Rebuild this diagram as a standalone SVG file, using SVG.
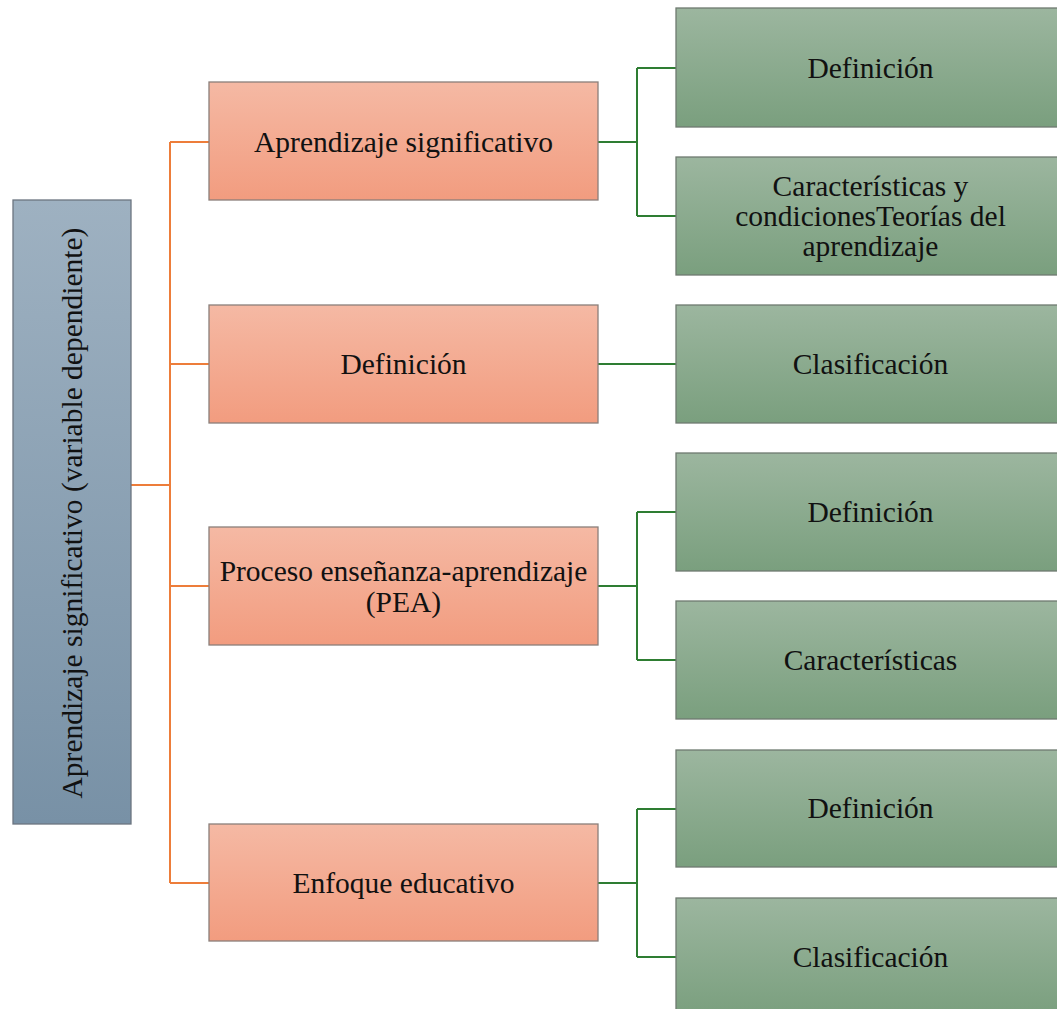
<svg xmlns="http://www.w3.org/2000/svg" width="1057" height="1009" viewBox="0 0 1057 1009">
<defs>
<linearGradient id="gO" x1="0" y1="0" x2="0" y2="1"><stop offset="0" stop-color="#F5B9A4"/><stop offset="1" stop-color="#F29C7F"/></linearGradient>
<linearGradient id="gG" x1="0" y1="0" x2="0" y2="1"><stop offset="0" stop-color="#9CB69F"/><stop offset="1" stop-color="#7A9F7E"/></linearGradient>
<linearGradient id="gB" x1="0" y1="0" x2="0" y2="1"><stop offset="0" stop-color="#9EB1C1"/><stop offset="1" stop-color="#7891A6"/></linearGradient>
</defs>
<style>
.o{fill:url(#gO);stroke:#8a7f7a;stroke-width:1.3}
.g{fill:url(#gG);stroke:#6f7a70;stroke-width:1.3}
.b{fill:url(#gB);stroke:#6c7580;stroke-width:1.3}
text{font-family:"Liberation Serif","Times New Roman",serif;font-size:29.5px;fill:#111;text-anchor:middle}
.co{fill:none;stroke:#ED7D3A;stroke-width:2}
.cg{fill:none;stroke:#2E7D32;stroke-width:2}
</style>
<g id="connectors">
<path class="co" d="M131 485H170M170 142V883M170 142H209M170 364H209M170 586H209M170 883H209"/>
<path class="cg" d="M598 142H637M637 68V216M637 68H676M637 216H676"/>
<path class="cg" d="M598 364H676"/>
<path class="cg" d="M598 586H637M637 512V660M637 512H676M637 660H676"/>
<path class="cg" d="M598 883H637M637 809V957M637 809H676M637 957H676"/>
</g>
<g id="root"><rect class="b" x="13" y="200" width="118" height="624"/><text transform="translate(82 513) rotate(-90)">Aprendizaje significativo (variable dependiente)</text></g>
<g id="n1"><rect class="o" x="209" y="82" width="389" height="118"/><text x="403.5" y="152">Aprendizaje significativo</text></g>
<g id="n2"><rect class="o" x="209" y="305" width="389" height="118"/><text x="403.5" y="374">Definición</text></g>
<g id="n3"><rect class="o" x="209" y="527" width="389" height="118"/><text x="403.5" y="581">Proceso enseñanza-aprendizaje</text><text x="403.5" y="612">(PEA)</text></g>
<g id="n4"><rect class="o" x="209" y="824" width="389" height="117"/><text x="403.5" y="893">Enfoque educativo</text></g>
<g id="g1"><rect class="g" x="676" y="8" width="389" height="119"/><text x="870.5" y="78">Definición</text></g>
<g id="g2"><rect class="g" x="676" y="157" width="389" height="118"/><text x="870.5" y="196">Características y</text><text x="870.5" y="226">condicionesTeorías del</text><text x="870.5" y="256">aprendizaje</text></g>
<g id="g3"><rect class="g" x="676" y="305" width="389" height="118"/><text x="870.5" y="374">Clasificación</text></g>
<g id="g4"><rect class="g" x="676" y="453" width="389" height="118"/><text x="870.5" y="522">Definición</text></g>
<g id="g5"><rect class="g" x="676" y="601" width="389" height="118"/><text x="870.5" y="670">Características</text></g>
<g id="g6"><rect class="g" x="676" y="750" width="389" height="117"/><text x="870.5" y="818">Definición</text></g>
<g id="g7"><rect class="g" x="676" y="898" width="389" height="118"/><text x="870.5" y="967">Clasificación</text></g>
</svg>
